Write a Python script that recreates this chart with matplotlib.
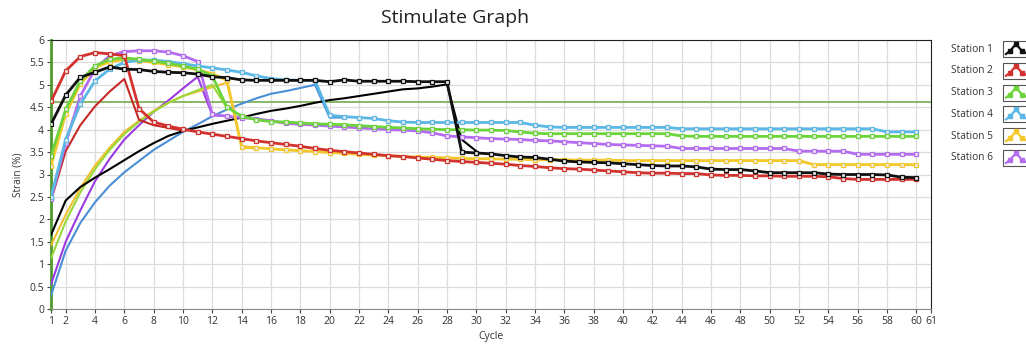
import matplotlib
matplotlib.use("Agg")
import matplotlib.pyplot as plt
from matplotlib.lines import Line2D
from matplotlib.patches import Rectangle
import numpy as np

plt.rcParams['font.family'] = ['Open Sans', 'DejaVu Sans']

# station names and colours
stations = ["Station 1", "Station 2", "Station 3", "Station 4", "Station 5", "Station 6"]
main_colors = ["#111111", "#d2322d", "#6cd43a", "#5ab7e6", "#f2c82a", "#b46cf0"]
rise_colors = ["#000000", "#c42a26", "#9ad83a", "#4a8fd6", "#f0c030", "#9a3ae0"]

cycles = np.arange(1, 61)

# upper curves (with markers), cycles 1..60
s1_main = [4.12, 4.77, 5.17, 5.28, 5.40, 5.35, 5.34, 5.30, 5.28, 5.27,
           5.24, 5.18, 5.16, 5.11, 5.10, 5.10, 5.10, 5.10, 5.10, 5.07,
           5.11, 5.08, 5.08, 5.08, 5.08, 5.07, 5.07, 5.07, 3.50, 3.48,
           3.46, 3.42, 3.39, 3.38, 3.34, 3.30, 3.28, 3.27, 3.26, 3.24,
           3.22, 3.20, 3.19, 3.19, 3.17, 3.12, 3.11, 3.11, 3.08, 3.04,
           3.04, 3.04, 3.04, 3.01, 3.00, 3.00, 3.00, 2.99, 2.94, 2.93]
s2_main = [4.63, 5.31, 5.63, 5.72, 5.69, 5.65, 4.47, 4.17, 4.08, 4.01,
           3.95, 3.90, 3.85, 3.80, 3.75, 3.71, 3.67, 3.63, 3.58, 3.54,
           3.51, 3.48, 3.45, 3.42, 3.40, 3.37, 3.34, 3.31, 3.29, 3.27,
           3.25, 3.23, 3.20, 3.18, 3.15, 3.13, 3.12, 3.10, 3.08, 3.06,
           3.04, 3.03, 3.03, 3.02, 3.02, 2.99, 2.98, 2.98, 2.97, 2.97,
           2.96, 2.96, 2.96, 2.95, 2.91, 2.89, 2.89, 2.89, 2.89, 2.89]
s3_main = [3.41, 4.45, 5.09, 5.42, 5.57, 5.60, 5.57, 5.53, 5.48, 5.42,
           5.35, 5.20, 4.50, 4.30, 4.22, 4.18, 4.17, 4.15, 4.13, 4.12,
           4.11, 4.09, 4.07, 4.05, 4.04, 4.02, 4.01, 4.00, 4.00, 3.99,
           3.99, 3.98, 3.95, 3.92, 3.91, 3.91, 3.91, 3.91, 3.91, 3.91,
           3.91, 3.91, 3.91, 3.86, 3.85, 3.85, 3.85, 3.85, 3.85, 3.85,
           3.85, 3.85, 3.85, 3.85, 3.85, 3.85, 3.85, 3.85, 3.85, 3.85]
s4_main = [2.50, 3.78, 4.57, 5.09, 5.35, 5.50, 5.55, 5.55, 5.52, 5.47,
           5.42, 5.38, 5.33, 5.28, 5.20, 5.14, 5.11, 5.10, 5.10, 4.32,
           4.29, 4.27, 4.25, 4.20, 4.17, 4.16, 4.16, 4.16, 4.16, 4.16,
           4.16, 4.16, 4.16, 4.10, 4.06, 4.05, 4.05, 4.05, 4.05, 4.05,
           4.05, 4.05, 4.05, 4.02, 4.02, 4.02, 4.02, 4.02, 4.02, 4.02,
           4.02, 4.02, 4.02, 4.02, 4.02, 4.02, 4.02, 3.95, 3.95, 3.95]
s5_main = [3.20, 4.35, 5.02, 5.38, 5.52, 5.56, 5.54, 5.50, 5.45, 5.40,
           5.33, 5.25, 5.10, 3.62, 3.60, 3.57, 3.55, 3.53, 3.51, 3.49,
           3.47, 3.45, 3.43, 3.42, 3.40, 3.39, 3.38, 3.37, 3.36, 3.35,
           3.35, 3.34, 3.34, 3.33, 3.33, 3.33, 3.32, 3.32, 3.32, 3.31,
           3.31, 3.31, 3.31, 3.31, 3.31, 3.31, 3.31, 3.31, 3.31, 3.31,
           3.31, 3.31, 3.22, 3.22, 3.22, 3.22, 3.22, 3.22, 3.22, 3.22]
s6_main = [2.45, 3.70, 4.75, 5.35, 5.65, 5.74, 5.76, 5.76, 5.73, 5.65,
           5.52, 4.34, 4.30, 4.27, 4.24, 4.20, 4.14, 4.12, 4.10, 4.08,
           4.06, 4.04, 4.02, 4.00, 3.99, 3.97, 3.93, 3.86, 3.84, 3.82,
           3.80, 3.79, 3.78, 3.76, 3.75, 3.73, 3.71, 3.69, 3.67, 3.66,
           3.65, 3.64, 3.63, 3.58, 3.58, 3.58, 3.58, 3.58, 3.58, 3.58,
           3.58, 3.52, 3.52, 3.52, 3.52, 3.45, 3.45, 3.45, 3.45, 3.45]

# rising curves (no markers), starting at cycle 1
s1_rise = [1.65, 2.42, 2.72, 2.93, 3.12, 3.32, 3.52, 3.70, 3.86, 3.97,
           4.05, 4.13, 4.20, 4.27, 4.35, 4.42, 4.47, 4.53, 4.60, 4.66,
           4.70, 4.75, 4.80, 4.85, 4.90, 4.92, 4.96, 5.01, 3.78, 3.52]
s2_rise = [2.42, 3.52, 4.10, 4.52, 4.85, 5.13, 4.22, 4.10, 4.04, 3.98]
s3_rise = [1.13, 1.95, 2.60, 3.12, 3.55, 3.90, 4.18, 4.40, 4.60, 4.75,
           4.88, 5.00, 4.48]
s4_rise = [0.30, 1.30, 1.92, 2.38, 2.75, 3.05, 3.30, 3.55, 3.75, 3.95,
           4.12, 4.30, 4.45, 4.58, 4.70, 4.80, 4.86, 4.93, 5.00, 4.27, 4.27]
s5_rise = [1.42, 2.10, 2.70, 3.20, 3.60, 3.95, 4.20, 4.42, 4.60, 4.75,
           4.85, 4.95, 5.05, 3.60, 3.58]
s6_rise = [0.55, 1.50, 2.20, 2.85, 3.35, 3.78, 4.10, 4.40, 4.65, 4.92,
           5.18, 4.32, 4.30]

limit_line = 4.62

mains = [s1_main, s2_main, s3_main, s4_main, s5_main, s6_main]
rises = [s1_rise, s2_rise, s3_rise, s4_rise, s5_rise, s6_rise]

W, H = 1026, 345
fig = plt.figure(figsize=(W / 100, H / 100), dpi=100)
ax = fig.add_axes([51 / W, 1 - 309 / H, (931 - 51) / W, (309 - 40) / H])

# grid and limit line
ax.set_xlim(1, 61)
ax.set_ylim(0, 6)
xt = [1] + list(range(2, 61, 2)) + [61]
ax.set_xticks(xt)
ax.set_xticklabels([str(v) for v in xt])
yt = np.arange(0, 6.01, 0.5)
ax.set_yticks(yt)
ax.set_yticklabels([("%g" % v) for v in yt])
ax.grid(True, color="#dcdcdc", linewidth=0.9)
ax.set_axisbelow(True)
ax.axhline(limit_line, color="#7fb35a", linewidth=1.3, zorder=2)

# draw station 6 first so station 1 ends on top
for i in range(5, -1, -1):
    r = rises[i]
    ax.plot(np.arange(1, len(r) + 1), r, color=rise_colors[i], linewidth=1.5, zorder=3)
    ax.plot(cycles, mains[i], color=main_colors[i], linewidth=2.0, marker="s",
            markersize=3.3, markerfacecolor="#e8e8e8", markeredgecolor=main_colors[i],
            markeredgewidth=0.9, zorder=4)

for side in ["top", "right"]:
    ax.spines[side].set_color("#222222")
ax.spines["bottom"].set_color("#8a8a8a")
ax.spines["left"].set_color("#4f9a2e")
ax.spines["left"].set_linewidth(2.0)
ax.tick_params(axis="both", labelsize=7.5, colors="#444444", length=3, width=0.8, pad=2)
for lab in ax.get_xticklabels() + ax.get_yticklabels():
    lab.set_color("#333333")

ax.set_xlabel("Cycle", fontsize=7.5, color="#333333", labelpad=3)
ax.set_ylabel("Strain (%)", fontsize=7.2, color="#333333", labelpad=4)
fig.text(455 / W, 1 - 18 / H, "Stimulate Graph", fontsize=14, ha="center", va="center",
         color="#222222")

# legend drawn by hand, LabVIEW style
for i, name in enumerate(stations):
    yc = 49 + i * 21.8
    fig.text(951 / W, 1 - yc / H, name, fontsize=7.3, ha="left", va="center", color="#333333")
    fig.add_artist(Rectangle((1003 / W, 1 - (yc + 8) / H), 30 / W, 16 / H,
                             transform=fig.transFigure, facecolor="white",
                             edgecolor="#555555", linewidth=0.8))
    px = np.array([1006, 1010, 1016, 1022, 1028])
    py = np.array([yc + 5, yc + 2, yc - 5, yc + 2, yc + 5])
    fig.add_artist(Line2D(px / W, 1 - py / H, transform=fig.transFigure,
                          color=main_colors[i], linewidth=1.6, marker="s", markersize=2.2,
                          markevery=[1, 2, 3]))

fig.savefig("out.png", dpi=100)
